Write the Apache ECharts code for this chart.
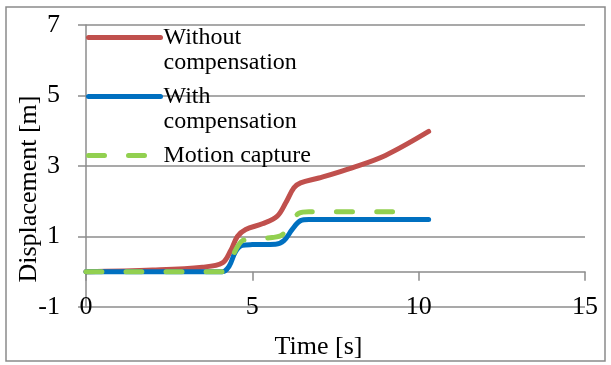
<!DOCTYPE html>
<html>
<head>
<meta charset="utf-8">
<script src="https://cdn.jsdelivr.net/npm/echarts@6/dist/echarts.min.js"></script>
<style>
  html, body { margin: 0; padding: 0; background: #fff; }
  #chart { width: 611px; height: 365px; }
</style>
</head>
<body>
<div id="chart"></div>
<script>
// Displacement over time, three measurement series
const seriesNames = ['Without\ncompensation', 'With\ncompensation', 'Motion capture'];

const tWithout = [0, 2, 3.5, 4.1, 4.35, 4.55, 4.8, 5.3, 5.75, 6.0, 6.25, 6.45, 7.0, 8.0, 9.0, 10.3];
const vWithout = [0, 0.05, 0.13, 0.25, 0.6, 1.0, 1.2, 1.36, 1.58, 1.95, 2.38, 2.52, 2.66, 2.95, 3.3, 3.98];

const tWith = [0, 4.1, 4.3, 4.5, 4.7, 5.0, 5.7, 5.95, 6.2, 6.45, 6.7, 10.3];
const vWith = [0, 0, 0.15, 0.58, 0.75, 0.77, 0.78, 0.88, 1.2, 1.45, 1.48, 1.48];

const tCapture = [0, 4.1, 4.3, 4.5, 4.7, 5.0, 5.6, 5.9, 6.15, 6.4, 6.7, 9.65];
const vCapture = [0, 0, 0.18, 0.62, 0.88, 0.93, 0.97, 1.05, 1.38, 1.66, 1.7, 1.7];

const xTicks = [0, 5, 10, 15];
const yTicks = [-1, 1, 3, 5, 7];

const pairs = (t, v) => t.map((x, i) => [x, v[i]]);

const FONT = '"Liberation Serif", "Times New Roman", serif';
const GRID_GRAY = '#8c8c8c';

const chart = echarts.init(document.getElementById('chart'), null, { renderer: 'canvas' });

const lineSeries = (name, data, color, type) => ({
  name: name,
  type: 'line',
  xAxisIndex: 0,
  yAxisIndex: 0,
  data: data,
  symbol: 'none',
  smooth: 0.35,
  lineStyle: { color: color, width: 5, type: type, cap: 'round', join: 'round' },
  itemStyle: { color: color },
  emphasis: { disabled: true },
  z: 3
});

chart.setOption({
  animation: false,
  backgroundColor: '#fff',
  textStyle: { fontFamily: FONT, color: '#000' },
  grid: { left: 86, right: 26, top: 25, bottom: 58, containLabel: false, outerBoundsMode: 'none' },
  graphic: [{
    type: 'rect',
    shape: { x: 6, y: 7, width: 599, height: 354 },
    style: { fill: 'none', stroke: '#8a8a8a', lineWidth: 1.5 },
    silent: true,
    z: -1
  }],
  legend: {
    orient: 'vertical',
    left: 86,
    top: 0,
    padding: 0,
    itemGap: -16,
    itemWidth: 72,
    itemHeight: 1,
    selectedMode: false,
    data: seriesNames,
    // an empty first line keeps the sample line level with the first text line
    formatter: name => ' \n' + name + (name.indexOf('\n') < 0 ? '\n ' : ''),
    itemStyle: { opacity: 0 },
    lineStyle: { width: 5 },
    textStyle: { fontFamily: FONT, fontSize: 24, lineHeight: 25, color: '#000', padding: [0, 0, 0, -2] }
  },
  xAxis: [{
    type: 'value',
    min: 0, max: 15, interval: 5,
    axisLine: { show: true, onZero: true, lineStyle: { color: GRID_GRAY, width: 1.5 } },
    axisTick: { show: true, inside: false, length: 9, lineStyle: { color: GRID_GRAY, width: 1.5 } },
    axisLabel: { show: false },
    splitLine: { show: false }
  }, {
    type: 'value',
    position: 'bottom',
    min: 0, max: 15, interval: 5,
    axisLine: { show: false, onZero: false },
    axisTick: { show: false },
    axisLabel: {
      show: true, margin: 0, verticalAlign: 'middle',
      fontFamily: FONT, fontSize: 26, color: '#000',
      formatter: v => xTicks.indexOf(v) >= 0 ? String(v) : ''
    },
    splitLine: { show: false },
    name: 'Time [s]',
    nameLocation: 'middle',
    nameGap: 27,
    nameMoveOverlap: false,
    nameTextStyle: { fontFamily: FONT, fontSize: 26, color: '#000', padding: [0, 34, 0, 0] }
  }],
  yAxis: {
    type: 'value',
    min: -1, max: 7, interval: 2,
    axisLine: { show: true, onZero: true, lineStyle: { color: GRID_GRAY, width: 1.5 } },
    axisTick: { show: true, inside: false, length: 8, lineStyle: { color: GRID_GRAY, width: 1.5 } },
    axisLabel: {
      show: true, margin: 26,
      fontFamily: FONT, fontSize: 26, color: '#000',
      formatter: v => yTicks.indexOf(v) >= 0 ? String(v) : ''
    },
    splitLine: { show: true, lineStyle: { color: GRID_GRAY, width: 1.5 } },
    name: 'Displacement [m]',
    nameLocation: 'middle',
    nameGap: 44,
    nameRotate: 90,
    nameMoveOverlap: false,
    nameTextStyle: { fontFamily: FONT, fontSize: 26, color: '#000', padding: [0, 46, 0, 0] }
  },
  series: [
    lineSeries(seriesNames[0], pairs(tWithout, vWithout), '#c0504d', 'solid'),
    lineSeries(seriesNames[1], pairs(tWith, vWith), '#0070c0', 'solid'),
    lineSeries(seriesNames[2], pairs(tCapture, vCapture), '#92d050', [16, 24])
  ]
});
</script>
</body>
</html>
